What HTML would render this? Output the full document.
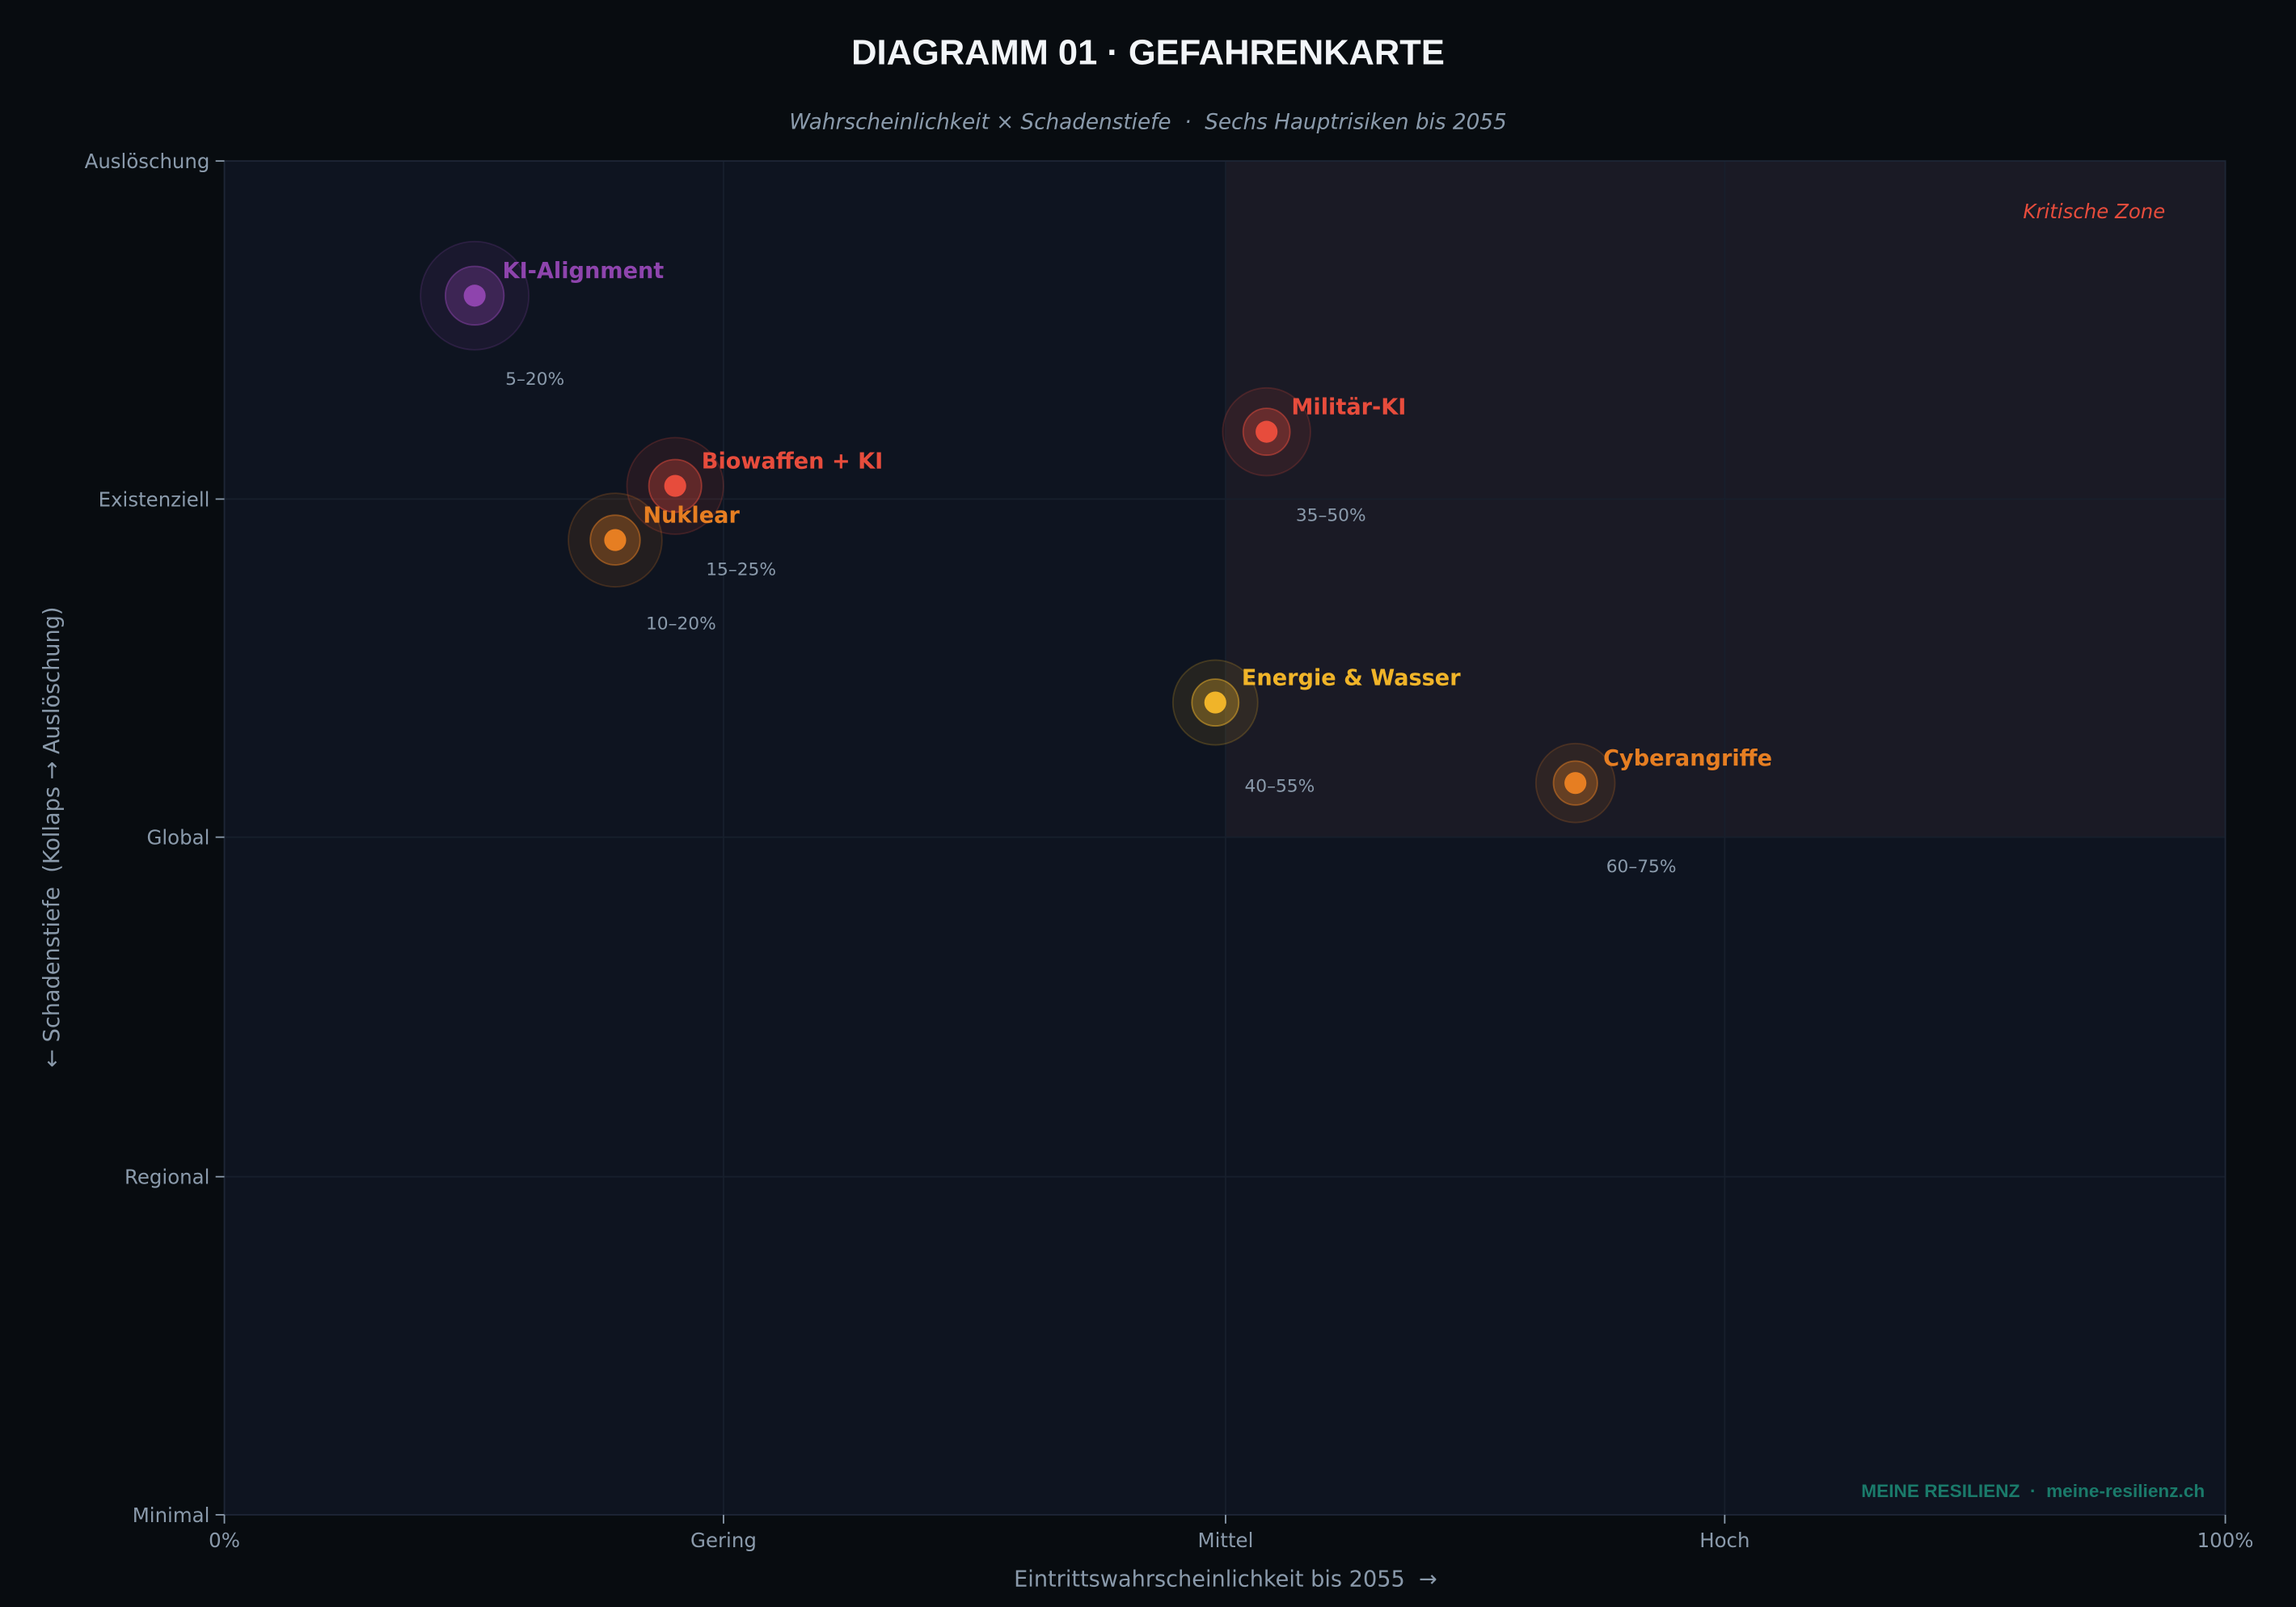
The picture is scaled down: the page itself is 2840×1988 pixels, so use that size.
<!DOCTYPE html>
<html><head><meta charset="utf-8"><style>
html,body{margin:0;padding:0;background:#080c10;}
svg{display:block;}
text{white-space:pre;}
</style></head><body>
<svg width="2840" height="1988" viewBox="0 0 1568 1098" xmlns="http://www.w3.org/2000/svg" font-family="'DejaVu Sans','Liberation Sans',sans-serif">
<rect width="1568" height="1098" fill="#080c10"/>
<rect x="153" y="110" width="1367" height="925" fill="#0e1420"/>
<rect x="837" y="110" width="683" height="462" fill="#1a1a25"/>
<g stroke="#171f2c" stroke-width="1">
<line x1="494" y1="110" x2="494" y2="1035"/><line x1="837" y1="110" x2="837" y2="1035"/><line x1="1178" y1="110" x2="1178" y2="1035"/>
<line x1="153" y1="341" x2="1520" y2="341"/><line x1="153" y1="572" x2="1520" y2="572"/><line x1="153" y1="804" x2="1520" y2="804"/>
</g>
<rect x="153" y="110" width="1367" height="925" fill="none" stroke="#1e2636" stroke-width="1"/>
<g stroke="#8a9aab" stroke-width="1">
<line x1="147" y1="110" x2="153" y2="110"/><line x1="147" y1="341" x2="153" y2="341"/><line x1="147" y1="572" x2="153" y2="572"/><line x1="147" y1="804" x2="153" y2="804"/><line x1="147" y1="1035" x2="153" y2="1035"/>
<line x1="153" y1="1035" x2="153" y2="1041"/><line x1="494" y1="1035" x2="494" y2="1041"/><line x1="837" y1="1035" x2="837" y2="1041"/><line x1="1178" y1="1035" x2="1178" y2="1041"/><line x1="1520" y1="1035" x2="1520" y2="1041"/>
</g>
<text x="784" y="44" text-anchor="middle" font-family="'Liberation Sans',sans-serif" font-weight="bold" font-size="24" fill="#f2f5f8">DIAGRAMM 01 · GEFAHRENKARTE</text>
<text x="784" y="88" text-anchor="middle" font-style="italic" font-size="14.5" fill="#8a9aab">Wahrscheinlichkeit × Schadenstiefe  ·  Sechs Hauptrisiken bis 2055</text>
<g font-size="13.5" fill="#8a9aab" text-anchor="end">
<text x="143" y="115">Auslöschung</text><text x="143" y="346">Existenziell</text><text x="143" y="577">Global</text><text x="143" y="809">Regional</text><text x="143" y="1040">Minimal</text>
</g>
<g font-size="13.5" fill="#8a9aab" text-anchor="middle">
<text x="153" y="1057">0%</text><text x="494" y="1057">Gering</text><text x="837" y="1057">Mittel</text><text x="1178" y="1057">Hoch</text><text x="1520" y="1057">100%</text>
</g>
<text x="837" y="1084" text-anchor="middle" font-size="15" fill="#8a9aab">Eintrittswahrscheinlichkeit bis 2055  →</text>
<text transform="translate(40,572) rotate(-90)" text-anchor="middle" font-size="15" fill="#8a9aab">← Schadenstiefe  (Kollaps → Auslöschung)</text>
<text x="1479" y="149" text-anchor="end" font-style="italic" font-size="13.5" fill="#e74c3c">Kritische Zone</text>
<g>
<circle cx="324" cy="202" r="37" fill="#8e44ad" fill-opacity="0.1" stroke="#8e44ad" stroke-opacity="0.2"/>
<circle cx="324" cy="202" r="20" fill="#8e44ad" fill-opacity="0.3" stroke="#8e44ad" stroke-opacity="0.5"/>
<circle cx="324" cy="202" r="7.5" fill="#8e44ad"/>
<circle cx="461" cy="332" r="33" fill="#e74c3c" fill-opacity="0.1" stroke="#e74c3c" stroke-opacity="0.2"/>
<circle cx="461" cy="332" r="18" fill="#e74c3c" fill-opacity="0.3" stroke="#e74c3c" stroke-opacity="0.5"/>
<circle cx="461" cy="332" r="7.5" fill="#e74c3c"/>
<circle cx="420" cy="369" r="32" fill="#e67e22" fill-opacity="0.1" stroke="#e67e22" stroke-opacity="0.2"/>
<circle cx="420" cy="369" r="17" fill="#e67e22" fill-opacity="0.3" stroke="#e67e22" stroke-opacity="0.5"/>
<circle cx="420" cy="369" r="7.5" fill="#e67e22"/>
<circle cx="865" cy="295" r="30" fill="#e74c3c" fill-opacity="0.1" stroke="#e74c3c" stroke-opacity="0.2"/>
<circle cx="865" cy="295" r="16" fill="#e74c3c" fill-opacity="0.3" stroke="#e74c3c" stroke-opacity="0.5"/>
<circle cx="865" cy="295" r="7.5" fill="#e74c3c"/>
<circle cx="830" cy="480" r="29" fill="#f0b429" fill-opacity="0.1" stroke="#f0b429" stroke-opacity="0.2"/>
<circle cx="830" cy="480" r="16" fill="#f0b429" fill-opacity="0.3" stroke="#f0b429" stroke-opacity="0.5"/>
<circle cx="830" cy="480" r="7.5" fill="#f0b429"/>
<circle cx="1076" cy="535" r="27" fill="#e67e22" fill-opacity="0.1" stroke="#e67e22" stroke-opacity="0.2"/>
<circle cx="1076" cy="535" r="15" fill="#e67e22" fill-opacity="0.3" stroke="#e67e22" stroke-opacity="0.5"/>
<circle cx="1076" cy="535" r="7.5" fill="#e67e22"/>
</g>
<g font-weight="bold" font-size="15">
<text x="343" y="190" fill="#8e44ad">KI-Alignment</text>
<text x="479" y="320" fill="#e74c3c">Biowaffen + KI</text>
<text x="439" y="357" fill="#e67e22">Nuklear</text>
<text x="882" y="283" fill="#e74c3c">Militär-KI</text>
<text x="848" y="468" fill="#f0b429">Energie &amp; Wasser</text>
<text x="1095" y="523" fill="#e67e22">Cyberangriffe</text>
</g>
<g font-size="12" fill="#8a9aab">
<text x="345" y="263">5–20%</text>
<text x="482" y="393">15–25%</text>
<text x="441" y="430">10–20%</text>
<text x="885" y="356">35–50%</text>
<text x="850" y="541">40–55%</text>
<text x="1097" y="596">60–75%</text>
</g>
<text x="1506" y="1023" text-anchor="end" font-family="'Liberation Sans',sans-serif" font-weight="bold" font-size="12.5" fill="#1a7a6a">MEINE RESILIENZ  ·  meine-resilienz.ch</text>
</svg>
</body></html>
